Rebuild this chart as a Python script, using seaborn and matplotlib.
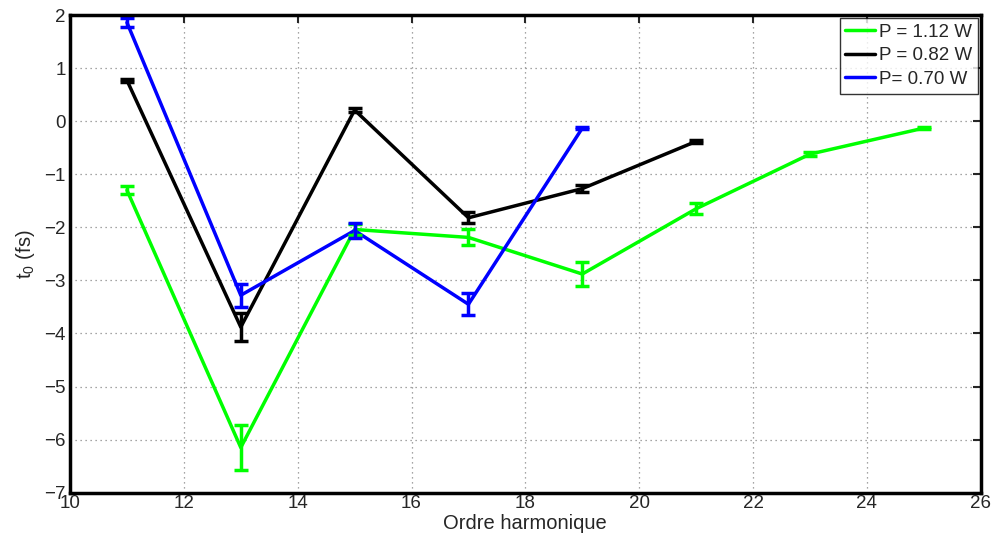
import numpy as np
import pandas as pd
import seaborn as sns
import matplotlib.pyplot as plt

# Data
harm_112 = [11, 13, 15, 17, 19, 21, 23, 25]
t0_112 = [-1.30, -6.15, -2.04, -2.19, -2.88, -1.65, -0.62, -0.13]
err_112 = [0.07, 0.42, 0.10, 0.15, 0.23, 0.10, 0.04, 0.02]

harm_082 = [11, 13, 15, 17, 19, 21]
t0_082 = [0.77, -3.88, 0.21, -1.82, -1.27, -0.38]
err_082 = [0.03, 0.26, 0.04, 0.10, 0.06, 0.03]

harm_070 = [11, 13, 15, 17, 19]
t0_070 = [1.86, -3.28, -2.06, -3.45, -0.13]
err_070 = [0.08, 0.22, 0.14, 0.21, 0.02]

labels = ["P = 1.12 W", "P = 0.82 W", "P= 0.70 W"]
colors = ["#00ff00", "#000000", "#0000ff"]

frames = []
for lab, h, t, e in zip(labels, [harm_112, harm_082, harm_070],
                        [t0_112, t0_082, t0_070], [err_112, err_082, err_070]):
    frames.append(pd.DataFrame({"harm": h, "t0": t, "err": e, "serie": lab}))
df = pd.concat(frames, ignore_index=True)

sns.set_style("white")
plt.rcParams['font.family'] = ['Liberation Sans', 'DejaVu Sans']
plt.rcParams['mathtext.default'] = 'regular'

fig = plt.figure(figsize=(9.92, 5.39), dpi=100)
ax = fig.add_axes([0.0706, 0.086, 0.918, 0.886])

sns.lineplot(data=df, x="harm", y="t0", hue="serie", palette=colors,
             hue_order=labels, linewidth=2.5, ax=ax, sort=False)
for lab, col in zip(labels, colors):
    sub = df[df.serie == lab]
    ax.errorbar(sub.harm, sub.t0, yerr=sub.err, fmt="none", ecolor=col,
                elinewidth=2.5, capsize=5, capthick=2.5)

ax.set_xlim(10, 26)
ax.set_ylim(-7, 2)
ax.set_xticks(np.arange(10, 27, 2))
ax.set_yticks(np.arange(-7, 3, 1))
ax.set_yticklabels([str(v).replace("-", "\u2212") for v in range(-7, 3)])
ax.grid(True, linestyle=(0, (1, 3)), color="#888888", linewidth=0.9)
ax.tick_params(direction="in", length=6, width=1.5, labelsize=13.5,
               top=True, right=True, pad=2)
ax.tick_params(axis="y", pad=3)
for s in ax.spines.values():
    s.set_linewidth(2.5)
    s.set_color("black")

ax.set_xlabel("Ordre harmonique", fontsize=14.5, labelpad=1)
ax.set_ylabel("t$_0$ (fs)", fontsize=14.5, labelpad=5)

leg = ax.legend(loc="upper right", fontsize=13.5, frameon=True, fancybox=False,
                edgecolor="black", borderpad=0.3, handlelength=1.6,
                handletextpad=0.2, labelspacing=0.35, borderaxespad=0.15)
leg.get_frame().set_linewidth(1.0)

fig.savefig("out.png", dpi=100)
